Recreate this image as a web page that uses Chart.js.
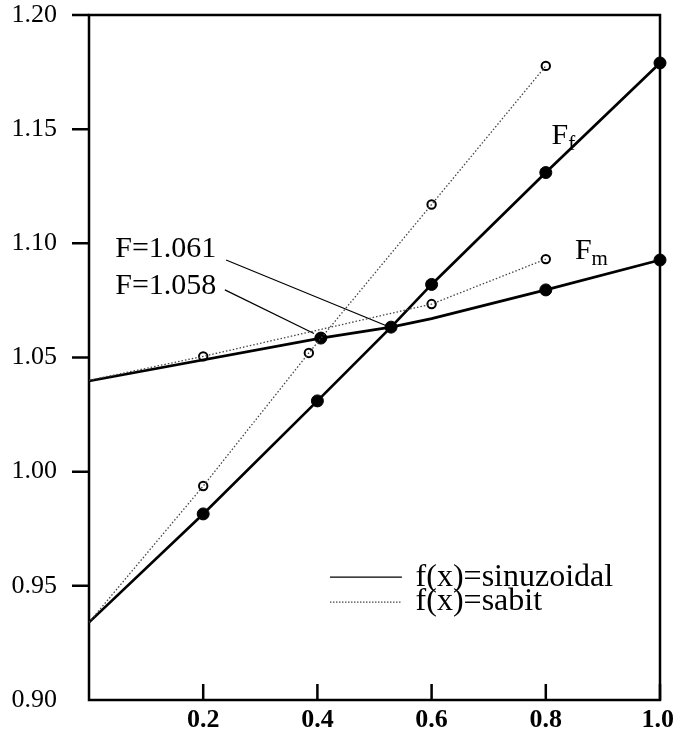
<!DOCTYPE html>
<html>
<head>
<meta charset="utf-8">
<script src="https://cdn.jsdelivr.net/npm/chart.js@4"></script>
<style>
  html, body { margin: 0; background: #fff; }
  #wrap { width: 673px; height: 738px; position: relative; }
</style>
</head>
<body>
<div id="wrap"><canvas id="c"></canvas></div>
<script>
/* F vs x, sinuzoidal and sabit f(x) */

const xTicks = [0.2, 0.4, 0.6, 0.8, 1.0];
const yTicks = [0.90, 0.95, 1.00, 1.05, 1.10, 1.15, 1.20];

// f(x)=sinuzoidal, solid curves
const ffSinX = [0, 0.2, 0.4, 0.529, 0.6, 0.8, 1.0];
const ffSinY = [0.934, 0.9815, 1.031, 1.0633, 1.082, 1.131, 1.179];
const fmSinX = [0, 0.406, 0.529, 0.6, 0.8, 1.0];
const fmSinY = [1.0397, 1.0585, 1.0633, 1.067, 1.0796, 1.0927];
const sinPtX = [0.2, 0.4, 0.529, 0.6, 0.8, 1.0, 0.406, 0.8, 1.0];
const sinPtY = [0.9815, 1.031, 1.0633, 1.082, 1.131, 1.179, 1.0585, 1.0796, 1.0927];

// f(x)=sabit, dotted curves
const ffSabX = [0, 0.2, 0.385, 0.6, 0.8];
const ffSabY = [0.934, 0.9937, 1.052, 1.117, 1.1777];
const fmSabX = [0, 0.2, 0.6, 0.8];
const fmSabY = [1.040, 1.0505, 1.0734, 1.0931];
const sabPtX = [0.2, 0.385, 0.6, 0.8, 0.2, 0.6, 0.8];
const sabPtY = [0.9937, 1.052, 1.117, 1.1777, 1.0505, 1.0734, 1.0931];

// leader lines for the two F= notes
const noteText = ["F=1.061", "F=1.058"];
const note1X = [0.240, 0.524], note1Y = [1.0927, 1.0636];
const note2X = [0.238, 0.394], note2Y = [1.0796, 1.0605];

const legendText = ["f(x)=sinuzoidal", "f(x)=sabit"];

const FONT = "'Liberation Serif', 'Times New Roman', serif";
const pts = (xs, ys) => xs.map((x, i) => ({ x, y: ys[i] }));

function curve(xs, ys, dotted) {
  return {
    data: pts(xs, ys),
    showLine: true,
    borderColor: dotted ? "#444" : "#000",
    borderWidth: dotted ? 1.3 : 2.7,
    borderDash: dotted ? [1.5, 2] : [],
    pointRadius: 0,
    tension: 0,
    clip: false,
  };
}

function marks(xs, ys, open) {
  return {
    data: pts(xs, ys),
    showLine: false,
    pointRadius: open ? 4.2 : 6,
    pointHoverRadius: 0,
    pointBackgroundColor: open ? "#fff" : "#000",
    pointBorderColor: "#000",
    pointBorderWidth: open ? 2 : 1,
    clip: false,
  };
}

function leader(xs, ys) {
  return { data: pts(xs, ys), showLine: true, borderColor: "#000", borderWidth: 1.2, pointRadius: 0, clip: false };
}

const decor = {
  id: "decor",
  beforeDatasetsDraw(chart) {
    const { ctx, chartArea: a, scales: { x, y } } = chart;
    ctx.save();
    ctx.strokeStyle = "#000";
    ctx.lineWidth = 2.5;
    ctx.strokeRect(a.left, a.top, a.right - a.left, a.bottom - a.top);
    ctx.beginPath();
    // x ticks point into the plot
    xTicks.forEach((v) => {
      const px = x.getPixelForValue(v);
      ctx.moveTo(px, a.bottom);
      ctx.lineTo(px, a.bottom - 16);
    });
    // y ticks point out (none at the bottom corner)
    yTicks.slice(1).forEach((v) => {
      const py = y.getPixelForValue(v);
      ctx.moveTo(a.left - 17, py);
      ctx.lineTo(a.left, py);
    });
    ctx.stroke();

    // last x label sits flush with the page edge
    ctx.fillStyle = "#000";
    ctx.font = `bold 26px ${FONT}`;
    ctx.textAlign = "right";
    ctx.textBaseline = "middle";
    ctx.fillText(xTicks[xTicks.length - 1].toFixed(1), chart.width + 1, a.bottom + 20);
    ctx.restore();
  },
  afterDatasetsDraw(chart) {
    const { ctx, scales: { x, y } } = chart;
    const X = (v) => x.getPixelForValue(v), Y = (v) => y.getPixelForValue(v);
    ctx.save();
    ctx.fillStyle = "#000";
    ctx.textBaseline = "middle";
    ctx.textAlign = "left";

    ctx.font = `30px ${FONT}`;
    ctx.fillText(noteText[0], X(0.046), Y(1.0975));
    ctx.fillText(noteText[1], X(0.046), Y(1.0813));

    // curve names with subscripts
    const sub = (main, s, xv, yv) => {
      ctx.font = `30px ${FONT}`;
      ctx.fillText(main, X(xv), Y(yv));
      const w = ctx.measureText(main).width;
      ctx.font = `21px ${FONT}`;
      ctx.fillText(s, X(xv) + w, Y(yv) + 8);
    };
    sub("F", "f", 0.810, 1.147);
    sub("F", "m", 0.851, 1.0965);

    // legend
    ctx.font = `32px ${FONT}`;
    ctx.strokeStyle = "#000";
    ctx.lineWidth = 1.3;
    ctx.beginPath();
    ctx.moveTo(X(0.422), Y(0.9538));
    ctx.lineTo(X(0.548), Y(0.9538));
    ctx.stroke();
    ctx.strokeStyle = "#444";
    ctx.lineWidth = 1.2;
    ctx.setLineDash([1.5, 1.5]);
    ctx.beginPath();
    ctx.moveTo(X(0.422), Y(0.9429));
    ctx.lineTo(X(0.548), Y(0.9429));
    ctx.stroke();
    ctx.setLineDash([]);
    ctx.fillText(legendText[0], X(0.572), Y(0.9538));
    ctx.fillText(legendText[1], X(0.572), Y(0.9429));
    ctx.restore();
  },
};

new Chart(document.getElementById("c"), {
  type: "scatter",
  data: {
    datasets: [
      curve(ffSabX, ffSabY, true),
      curve(fmSabX, fmSabY, true),
      curve(ffSinX, ffSinY, false),
      curve(fmSinX, fmSinY, false),
      leader(note1X, note1Y),
      leader(note2X, note2Y),
      marks(sabPtX, sabPtY, true),
      marks(sinPtX, sinPtY, false),
    ],
  },
  options: {
    responsive: true,
    maintainAspectRatio: false,
    animation: false,
    events: [],
    layout: { padding: { top: 15, right: 13, left: 0, bottom: 0 } },
    plugins: { legend: { display: false }, tooltip: { enabled: false } },
    scales: {
      x: {
        type: "linear",
        min: 0,
        max: 1,
        afterBuildTicks: (s) => { s.ticks = xTicks.map((v) => ({ value: v })); },
        afterFit: (s) => { s.height = 38; s.paddingLeft = 0; s.paddingRight = 0; },
        grid: { display: false, drawTicks: false },
        border: { display: false },
        ticks: {
          color: "#000",
          padding: 5,
          font: { family: FONT, size: 26, weight: "bold" },
          callback: (v) => (v === 1 ? "" : v.toFixed(1)),
        },
      },
      y: {
        type: "linear",
        min: 0.9,
        max: 1.2,
        afterBuildTicks: (s) => { s.ticks = yTicks.map((v) => ({ value: v })); },
        afterFit: (s) => { s.width = 89; s.paddingTop = 0; s.paddingBottom = 0; },
        grid: { display: false, drawTicks: false },
        border: { display: false },
        ticks: { color: "#000", padding: 32, font: { family: FONT, size: 26 }, callback: (v) => v.toFixed(2) },
      },
    },
  },
  plugins: [decor],
});
</script>
</body>
</html>
